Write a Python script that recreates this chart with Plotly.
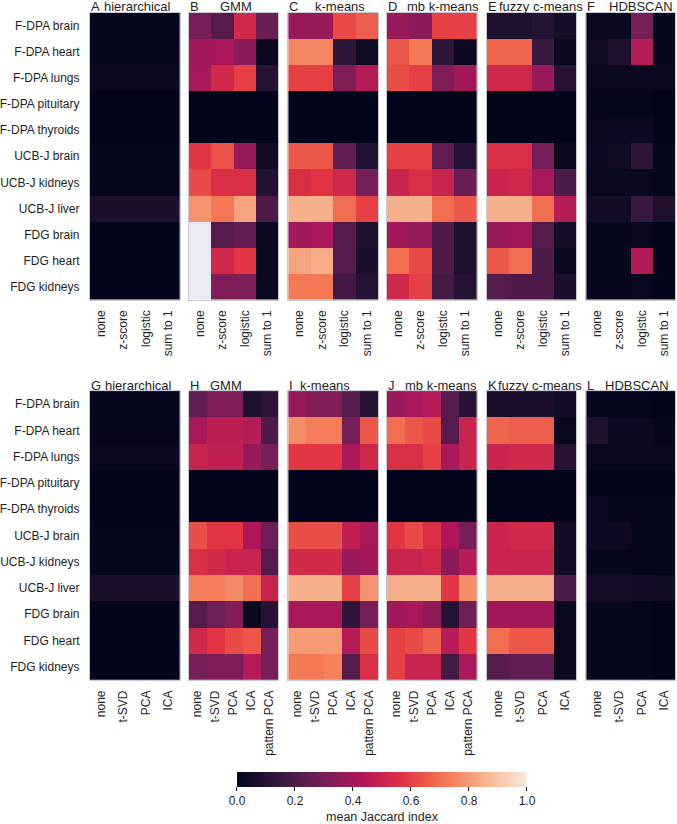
import plotly.graph_objects as go

# ---------------- data ----------------
rows = ["F-DPA brain", "F-DPA heart", "F-DPA lungs", "F-DPA pituitary", "F-DPA thyroids",
        "UCB-J brain", "UCB-J kidneys", "UCB-J liver", "FDG brain", "FDG heart", "FDG kidneys"]
cols_norm = ["none", "z-score", "logistic", "sum to 1"]
cols_dr5 = ["none", "t-SVD", "PCA", "ICA", "pattern PCA"]
cols_dr4 = ["none", "t-SVD", "PCA", "ICA"]
nan = None

# top row: normalisation
A_hierarchical = [
    [0.01, 0.01, 0.01, 0.01], [0.01, 0.01, 0.01, 0.01], [0.02, 0.02, 0.02, 0.02],
    [0.00, 0.00, 0.00, 0.00], [0.00, 0.00, 0.00, 0.00], [0.01, 0.01, 0.01, 0.01],
    [0.01, 0.01, 0.01, 0.01], [0.07, 0.07, 0.07, 0.07], [0.00, 0.00, 0.00, 0.00],
    [0.00, 0.00, 0.00, 0.00], [0.00, 0.00, 0.00, 0.00]]
B_gmm = [
    [0.30, 0.22, 0.52, 0.27], [0.40, 0.42, 0.35, 0.02], [0.42, 0.52, 0.60, 0.10],
    [0.00, 0.00, 0.00, 0.00], [0.00, 0.00, 0.00, 0.00], [0.58, 0.64, 0.38, 0.04],
    [0.62, 0.55, 0.55, 0.09], [0.78, 0.72, 0.82, 0.20], [nan, 0.22, 0.25, 0.02],
    [nan, 0.52, 0.58, 0.02], [nan, 0.32, 0.32, 0.02]]
C_kmeans = [
    [0.38, 0.38, 0.62, 0.66], [0.75, 0.75, 0.12, 0.04], [0.60, 0.60, 0.32, 0.45],
    [0.00, 0.00, 0.00, 0.00], [0.00, 0.00, 0.00, 0.00], [0.65, 0.65, 0.25, 0.09],
    [0.55, 0.57, 0.52, 0.30], [0.85, 0.85, 0.70, 0.60], [0.40, 0.42, 0.22, 0.08],
    [0.82, 0.84, 0.22, 0.07], [0.72, 0.72, 0.17, 0.10]]
D_mbkmeans = [
    [0.38, 0.35, 0.60, 0.60], [0.65, 0.72, 0.12, 0.03], [0.63, 0.60, 0.32, 0.40],
    [0.00, 0.00, 0.00, 0.00], [0.00, 0.00, 0.00, 0.00], [0.60, 0.60, 0.25, 0.10],
    [0.50, 0.55, 0.50, 0.27], [0.85, 0.85, 0.70, 0.65], [0.40, 0.38, 0.20, 0.08],
    [0.70, 0.62, 0.20, 0.08], [0.52, 0.60, 0.18, 0.10]]
E_fuzzy = [
    [0.08, 0.08, 0.10, 0.06], [0.68, 0.68, 0.15, 0.02], [0.52, 0.52, 0.38, 0.10],
    [0.00, 0.00, 0.00, 0.00], [0.00, 0.00, 0.00, 0.00], [0.55, 0.55, 0.30, 0.02],
    [0.50, 0.52, 0.42, 0.20], [0.85, 0.85, 0.70, 0.45], [0.38, 0.40, 0.22, 0.06],
    [0.65, 0.70, 0.20, 0.02], [0.22, 0.20, 0.20, 0.07]]
F_hdbscan = [
    [0.02, 0.02, 0.30, 0.01], [0.04, 0.08, 0.45, 0.01], [0.02, 0.02, 0.02, 0.02],
    [0.01, 0.01, 0.01, 0.00], [0.02, 0.03, 0.03, 0.00], [0.03, 0.04, 0.12, 0.01],
    [0.02, 0.02, 0.02, 0.01], [0.05, 0.05, 0.15, 0.08], [0.01, 0.01, 0.02, 0.00],
    [0.01, 0.01, 0.44, 0.00], [0.01, 0.01, 0.02, 0.00]]

# bottom row: dimensionality reduction
G_hierarchical = [
    [0.01, 0.01, 0.01, 0.01], [0.01, 0.01, 0.01, 0.01], [0.02, 0.02, 0.02, 0.02],
    [0.00, 0.00, 0.00, 0.00], [0.00, 0.00, 0.00, 0.00], [0.01, 0.01, 0.01, 0.01],
    [0.01, 0.01, 0.01, 0.01], [0.07, 0.07, 0.07, 0.07], [0.00, 0.00, 0.00, 0.00],
    [0.00, 0.00, 0.00, 0.00], [0.00, 0.00, 0.00, 0.00]]
H_gmm = [
    [0.25, 0.32, 0.32, 0.08, 0.12], [0.42, 0.47, 0.47, 0.45, 0.20],
    [0.50, 0.48, 0.48, 0.38, 0.30], [0.00, 0.00, 0.00, 0.00, 0.00],
    [0.00, 0.00, 0.00, 0.00, 0.00], [0.63, 0.57, 0.57, 0.43, 0.28],
    [0.55, 0.53, 0.50, 0.50, 0.22], [0.73, 0.73, 0.76, 0.70, 0.50],
    [0.22, 0.28, 0.33, 0.02, 0.10], [0.52, 0.57, 0.62, 0.65, 0.30],
    [0.30, 0.32, 0.32, 0.45, 0.30]]
I_kmeans = [
    [0.38, 0.33, 0.33, 0.22, 0.10], [0.77, 0.73, 0.73, 0.30, 0.65],
    [0.58, 0.58, 0.58, 0.42, 0.52], [0.00, 0.00, 0.00, 0.00, 0.00],
    [0.00, 0.00, 0.00, 0.00, 0.00], [0.63, 0.63, 0.63, 0.48, 0.42],
    [0.53, 0.53, 0.53, 0.38, 0.40], [0.85, 0.85, 0.85, 0.60, 0.78],
    [0.42, 0.42, 0.42, 0.12, 0.30], [0.80, 0.80, 0.80, 0.45, 0.62],
    [0.72, 0.72, 0.74, 0.22, 0.55]]
J_mbkmeans = [
    [0.38, 0.42, 0.45, 0.22, 0.10], [0.70, 0.65, 0.62, 0.22, 0.50],
    [0.55, 0.55, 0.60, 0.42, 0.50], [0.00, 0.00, 0.00, 0.00, 0.00],
    [0.00, 0.00, 0.00, 0.00, 0.00], [0.58, 0.62, 0.55, 0.43, 0.30],
    [0.50, 0.50, 0.52, 0.35, 0.45], [0.85, 0.85, 0.85, 0.58, 0.77],
    [0.40, 0.42, 0.36, 0.10, 0.28], [0.60, 0.62, 0.67, 0.45, 0.58],
    [0.60, 0.50, 0.50, 0.18, 0.42]]
K_fuzzy = [
    [0.07, 0.07, 0.07, 0.05], [0.68, 0.66, 0.66, 0.02], [0.50, 0.52, 0.52, 0.10],
    [0.00, 0.00, 0.00, 0.00], [0.00, 0.00, 0.00, 0.00], [0.50, 0.52, 0.52, 0.05],
    [0.50, 0.50, 0.50, 0.05], [0.85, 0.85, 0.85, 0.20], [0.40, 0.40, 0.40, 0.02],
    [0.70, 0.65, 0.65, 0.02], [0.22, 0.25, 0.25, 0.02]]
L_hdbscan = [
    [0.01, 0.01, 0.01, 0.00], [0.08, 0.03, 0.03, 0.01], [0.02, 0.02, 0.02, 0.02],
    [0.00, 0.00, 0.00, 0.00], [0.03, 0.01, 0.01, 0.01], [0.03, 0.03, 0.01, 0.01],
    [0.01, 0.01, 0.01, 0.01], [0.06, 0.06, 0.05, 0.04], [0.01, 0.01, 0.01, 0.00],
    [0.01, 0.01, 0.01, 0.00], [0.01, 0.01, 0.01, 0.00]]

letters_top = ["A", "B", "C", "D", "E", "F"]
letters_bot = ["G", "H", "I", "J", "K", "L"]
methods = ["hierarchical", "GMM", "k-means", "mb k-means", "fuzzy c-means", "HDBSCAN"]
top_data = [A_hierarchical, B_gmm, C_kmeans, D_mbkmeans, E_fuzzy, F_hdbscan]
bot_data = [G_hierarchical, H_gmm, I_kmeans, J_mbkmeans, K_fuzzy, L_hdbscan]
bot_cols = [cols_dr4, cols_dr5, cols_dr5, cols_dr5, cols_dr4, cols_dr4]

# ---------------- styling / layout ----------------
W, H = 677, 824
rocket = [
    [0.0, "#03051A"], [0.143, "#35193E"], [0.286, "#701F57"], [0.429, "#AD1759"],
    [0.571, "#E13342"], [0.714, "#F37651"], [0.857, "#F6B48F"], [1.0, "#FAEBDD"]]
FONT = "Liberation Sans, Arial, sans-serif"
TXT = "#1e1e1e"

panel_x = [(82, 173), (182, 273), (283, 374), (383, 474), (484, 575), (585, 675)]
top_y = (13, 301)
bot_y = (393, 683)
name_left_top = [95, 213, 309, 402, 496, 607]
name_left_bot = [96, 203, 294, 400, 495, 603]

fig = go.Figure()
layout = {}
annotations = []

panels = []
for k in range(6):
    panels.append((letters_top[k], methods[k], top_data[k], cols_norm, panel_x[k], top_y, name_left_top[k]))
for k in range(6):
    panels.append((letters_bot[k], methods[k], bot_data[k], bot_cols[k], panel_x[k], bot_y, name_left_bot[k]))

for i, (letter, name, z, cols, (x0, x1), (y0, y1), nleft) in enumerate(panels):
    n = i + 1
    sfx = "" if n == 1 else str(n)
    first = (i % 6 == 0)
    fig.add_trace(go.Heatmap(
        z=z, x=cols, y=rows, colorscale=rocket, zmin=0, zmax=1,
        xaxis="x" + sfx, yaxis="y" + sfx, showscale=(n == 1),
        hoverongaps=False,
        colorbar=dict(
            orientation="h", x=378 / W, xanchor="center", xref="paper",
            y=1 - 776 / H, yanchor="top", yref="paper",
            lenmode="pixels", len=290, thickness=15, outlinewidth=0,
            xpad=0, ypad=0,
            tickvals=[0, 0.2, 0.4, 0.6, 0.8, 1.0], tickformat=".1f",
            ticks="outside", ticklen=4, tickcolor=TXT,
            tickfont=dict(family=FONT, size=12, color=TXT),
            title=dict(text="mean Jaccard index", side="bottom",
                       font=dict(family=FONT, size=12.5, color=TXT)),
        ) if n == 1 else None,
    ))
    layout["xaxis" + sfx] = dict(
        domain=[x0 / W, x1 / W], anchor="y" + sfx, type="category",
        tickangle=-90, showgrid=False, zeroline=False, ticks="",
        ticklabelstandoff=5,
        tickfont=dict(family=FONT, size=12, color=TXT),
        showline=True, mirror=True, linecolor="#C9C9D6", linewidth=1,
        fixedrange=True)
    layout["yaxis" + sfx] = dict(
        domain=[1 - y1 / H, 1 - y0 / H], anchor="x" + sfx, type="category",
        autorange="reversed", showgrid=False, zeroline=False, ticks="",
        showticklabels=first, ticklabelstandoff=7,
        tickfont=dict(family=FONT, size=12, color=TXT),
        showline=True, mirror=True, linecolor="#C9C9D6", linewidth=1,
        fixedrange=True)
    for txt, xl in ((letter, x0), (name, nleft)):
        annotations.append(dict(
            text=txt, xref="paper", yref="paper", x=xl / W, y=1 - (y0 - 6) / H,
            xanchor="left", yanchor="middle", showarrow=False, borderpad=0,
            font=dict(family=FONT, size=13, color=TXT)))

fig.update_layout(
    width=W, height=H, margin=dict(l=0, r=0, t=0, b=0),
    paper_bgcolor="white", plot_bgcolor="#EAEAF2",
    annotations=annotations, **layout)

fig.write_html("out.html")
